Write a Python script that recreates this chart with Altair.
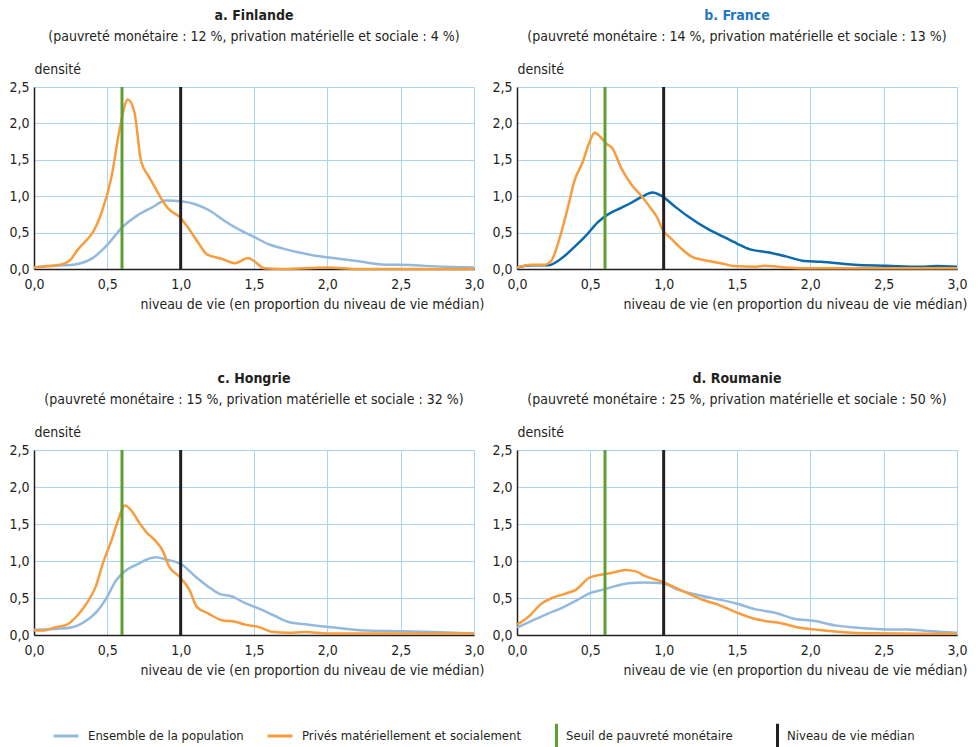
import altair as alt
import pandas as pd

FONT = "Liberation Sans Narrow, Arial Narrow, DejaVu Sans Condensed, sans-serif"

SERIES = ["Ensemble de la population", "Privés matériellement et socialement"]
REPERES = ["Seuil de pauvreté monétaire", "Niveau de vie médian"]
REPERE_VALUES = [0.6, 1.0]

COUNTRIES = ["fi", "fr", "hu", "ro"]
TITLES = {"fi": "a. Finlande", "fr": "b. France", "hu": "c. Hongrie", "ro": "d. Roumanie"}
SUBTITLES = {
    "fi": "(pauvreté monétaire : 12 %,  privation matérielle et sociale : 4 %)",
    "fr": "(pauvreté monétaire : 14 %,  privation matérielle et sociale : 13 %)",
    "hu": "(pauvreté monétaire : 15 %,  privation matérielle et sociale : 32 %)",
    "ro": "(pauvreté monétaire : 25 %,  privation matérielle et sociale : 50 %)",
}

# Finlande
fi_ens_x = [0, 0.1, 0.2, 0.3, 0.4, 0.5, 0.6, 0.7, 0.8, 0.9, 1.0, 1.1, 1.2, 1.3, 1.4, 1.5, 1.6, 1.7, 1.8, 1.9, 2.0, 2.2, 2.4, 2.5, 2.6, 2.8, 3.0]
fi_ens_y = [0.02, 0.04, 0.05, 0.07, 0.15, 0.33, 0.57, 0.73, 0.84, 0.94, 0.93, 0.89, 0.80, 0.66, 0.54, 0.44, 0.34, 0.28, 0.23, 0.19, 0.16, 0.11, 0.06, 0.06, 0.05, 0.03, 0.02]
fi_priv_x = [0, 0.1, 0.2, 0.25, 0.3, 0.35, 0.4, 0.46, 0.53, 0.58, 0.64, 0.685, 0.73, 0.78, 0.82, 0.87, 0.91, 1.0, 1.05, 1.12, 1.18, 1.28, 1.37, 1.46, 1.5, 1.57, 1.7, 2.0, 2.2, 3.0]
fi_priv_y = [0.02, 0.04, 0.07, 0.13, 0.27, 0.38, 0.50, 0.77, 1.28, 1.88, 2.33, 2.15, 1.48, 1.28, 1.14, 0.96, 0.84, 0.70, 0.57, 0.36, 0.20, 0.14, 0.08, 0.15, 0.11, 0.01, 0.0, 0.02, 0.0, 0.0]

# France
fr_ens_x = [0, 0.1, 0.21, 0.3, 0.39, 0.48, 0.55, 0.62, 0.71, 0.78, 0.85, 0.925, 0.98, 1.07, 1.16, 1.3, 1.39, 1.5, 1.59, 1.71, 1.84, 1.96, 2.07, 2.3, 2.52, 2.75, 2.86, 3.0]
fr_ens_y = [0.02, 0.05, 0.05, 0.14, 0.30, 0.48, 0.64, 0.75, 0.84, 0.91, 0.99, 1.05, 1.01, 0.87, 0.73, 0.55, 0.46, 0.35, 0.27, 0.23, 0.17, 0.11, 0.10, 0.06, 0.045, 0.03, 0.04, 0.03]
fr_priv_x = [0, 0.1, 0.19, 0.23, 0.29, 0.35, 0.39, 0.45, 0.49, 0.53, 0.57, 0.61, 0.65, 0.71, 0.78, 0.85, 0.91, 0.96, 0.99, 1.05, 1.12, 1.19, 1.28, 1.39, 1.48, 1.62, 1.69, 1.78, 1.96, 3.0]
fr_priv_y = [0.02, 0.06, 0.06, 0.10, 0.42, 0.87, 1.20, 1.48, 1.72, 1.87, 1.81, 1.72, 1.66, 1.39, 1.16, 1.00, 0.84, 0.69, 0.55, 0.42, 0.28, 0.17, 0.12, 0.08, 0.04, 0.03, 0.045, 0.03, 0.01, 0.01]

# Hongrie
hu_ens_x = [0, 0.135, 0.25, 0.36, 0.43, 0.5, 0.56, 0.63, 0.7, 0.77, 0.83, 0.9, 1.01, 1.1, 1.19, 1.26, 1.35, 1.44, 1.53, 1.64, 1.73, 1.87, 2.0, 2.14, 2.27, 2.5, 2.72, 3.0]
hu_ens_y = [0.07, 0.08, 0.10, 0.20, 0.32, 0.52, 0.74, 0.88, 0.95, 1.02, 1.05, 1.02, 0.95, 0.79, 0.65, 0.56, 0.52, 0.43, 0.36, 0.26, 0.18, 0.14, 0.11, 0.08, 0.06, 0.05, 0.04, 0.02]
hu_priv_x = [0, 0.07, 0.135, 0.225, 0.29, 0.36, 0.42, 0.47, 0.53, 0.57, 0.62, 0.66, 0.72, 0.77, 0.82, 0.88, 0.92, 0.99, 1.06, 1.11, 1.19, 1.28, 1.37, 1.44, 1.53, 1.62, 1.73, 1.85, 2.0, 3.0]
hu_priv_y = [0.06, 0.06, 0.10, 0.14, 0.25, 0.43, 0.65, 0.97, 1.29, 1.53, 1.75, 1.69, 1.51, 1.38, 1.29, 1.13, 0.93, 0.79, 0.61, 0.38, 0.29, 0.20, 0.18, 0.14, 0.11, 0.045, 0.03, 0.04, 0.02, 0.02]

# Roumanie
ro_ens_x = [0, 0.1, 0.2, 0.31, 0.4, 0.49, 0.58, 0.67, 0.76, 0.87, 0.99, 1.1, 1.21, 1.35, 1.49, 1.62, 1.76, 1.89, 2.03, 2.17, 2.3, 2.53, 2.66, 2.8, 3.0]
ro_ens_y = [0.10, 0.19, 0.28, 0.37, 0.46, 0.56, 0.61, 0.66, 0.70, 0.71, 0.70, 0.61, 0.55, 0.49, 0.43, 0.35, 0.30, 0.22, 0.19, 0.13, 0.10, 0.076, 0.076, 0.054, 0.03]
ro_priv_x = [0, 0.08, 0.17, 0.24, 0.33, 0.4, 0.49, 0.56, 0.65, 0.74, 0.81, 0.87, 0.99, 1.08, 1.17, 1.26, 1.37, 1.49, 1.6, 1.69, 1.8, 1.92, 2.03, 2.19, 2.41, 2.75, 3.0]
ro_priv_y = [0.14, 0.25, 0.43, 0.50, 0.56, 0.61, 0.77, 0.81, 0.84, 0.88, 0.86, 0.80, 0.72, 0.64, 0.56, 0.48, 0.41, 0.31, 0.23, 0.19, 0.16, 0.10, 0.076, 0.045, 0.022, 0.018, 0.018]

CURVES = {
    "fi": [(fi_ens_x, fi_ens_y), (fi_priv_x, fi_priv_y)],
    "fr": [(fr_ens_x, fr_ens_y), (fr_priv_x, fr_priv_y)],
    "hu": [(hu_ens_x, hu_ens_y), (hu_priv_x, hu_priv_y)],
    "ro": [(ro_ens_x, ro_ens_y), (ro_priv_x, ro_priv_y)],
}

rows = []
for c in COUNTRIES:
    for s, (xs, ys) in zip(SERIES, CURVES[c]):
        for i, (xv, yv) in enumerate(zip(xs, ys)):
            rows.append({"pays": c, "serie": s, "ordre": i, "x": xv, "y": yv})
df = pd.DataFrame(rows)
ref_df = pd.DataFrame({"repere": REPERES, "x": REPERE_VALUES})

LIGHT_BLUE = "#94b9de"
DARK_BLUE = "#0b6aab"
ORANGE = "#f89c3c"
GREEN = "#5e9e32"
BLACK = "#231f20"
GRID = "#a9d5f2"

label_expr = "replace(format(datum.value, '.1f'), '.', ',')"

x_axis = alt.Axis(
    values=[0, 0.5, 1, 1.5, 2, 2.5, 3], labelExpr=label_expr, labelFlush=False,
    labelOverlap=False, ticks=False, labelPadding=8,
    title="niveau de vie (en proportion du niveau de vie médian)",
    titleX=450, titleAlign="right", titleY=39, titleBaseline="alphabetic",
)
y_axis = alt.Axis(
    values=[0, 0.5, 1, 1.5, 2, 2.5], labelExpr=label_expr, labelFlush=False,
    labelOverlap=False, ticks=False, labelPadding=5,
    title="densité", titleAngle=0, titleAlign="left", titleBaseline="alphabetic",
    titleX=0, titleY=-14,
)

color_scale = alt.Scale(domain=SERIES, range=[LIGHT_BLUE, ORANGE])
stroke_scale = alt.Scale(domain=REPERES, range=[GREEN, BLACK])

color_legend = alt.Legend(
    title=None, orient="none", legendX=18, legendY=635, direction="horizontal",
    symbolType="stroke", symbolSize=625, symbolStrokeWidth=3,
    labelFontSize=13, labelFont=FONT, labelColor=BLACK, labelOffset=8,
    columnPadding=17, labelLimit=400,
)
stroke_legend = alt.Legend(
    title=None, orient="none", legendX=497, legendY=635, direction="horizontal",
    symbolType="M1,-1L1,1", symbolSize=576, symbolStrokeWidth=3,
    labelFontSize=13, labelFont=FONT, labelColor=BLACK, labelOffset=8,
    columnPadding=19, labelLimit=400,
)


def panel(c, h):
    d = df[df.pays == c]
    xenc = alt.X("x:Q", scale=alt.Scale(domain=[0, 3], nice=False), axis=x_axis)
    yenc = alt.Y("y:Q", scale=alt.Scale(domain=[0, 2.5], nice=False), axis=y_axis)
    base = alt.Chart(d)
    line_kw = dict(interpolate="monotone", strokeWidth=2.5)
    if c == "fr":
        ens = base.transform_filter(alt.datum.serie == SERIES[0]).mark_line(
            color=DARK_BLUE, **line_kw).encode(x=xenc, y=yenc, order="ordre:Q")
        priv = base.transform_filter(alt.datum.serie == SERIES[1]).mark_line(**line_kw).encode(
            x=xenc, y=yenc, order="ordre:Q",
            color=alt.Color("serie:N", scale=color_scale, legend=color_legend))
        lines = [ens, priv]
        tcolor = "#1f78c0"
    else:
        lines = [base.mark_line(**line_kw).encode(
            x=xenc, y=yenc, order="ordre:Q",
            color=alt.Color("serie:N", scale=color_scale, legend=color_legend))]
        tcolor = BLACK
    rules = alt.Chart(ref_df).mark_rule(strokeWidth=3).encode(
        x=xenc,
        stroke=alt.Stroke("repere:N", scale=stroke_scale, legend=stroke_legend),
    )
    return alt.layer(*lines, rules).properties(
        width=440, height=h,
        title=alt.TitleParams(
            text=TITLES[c], subtitle=SUBTITLES[c], anchor="middle",
            font=FONT, fontSize=14, fontWeight="bold", color=tcolor,
            subtitleFont=FONT, subtitleFontSize=14, subtitleColor=BLACK,
            subtitlePadding=7, offset=18,
        ),
    )


top = alt.hconcat(panel("fi", 182), panel("fr", 182), spacing=6)
bottom = alt.hconcat(panel("hu", 185), panel("ro", 185), spacing=6)

chart = alt.vconcat(top, bottom, spacing=59).properties(padding=0).configure(
    font=FONT,
).configure_view(
    stroke=GRID, strokeWidth=1,
).configure_axis(
    grid=True, gridColor=GRID, gridWidth=1, gridOpacity=1,
    domainColor=BLACK, domainWidth=1.5,
    labelFont=FONT, labelFontSize=14, labelColor=BLACK,
    titleFont=FONT, titleFontSize=14, titleFontWeight="normal", titleColor=BLACK,
)

chart.save("out.html", embed_options={"renderer": "svg", "actions": False})
